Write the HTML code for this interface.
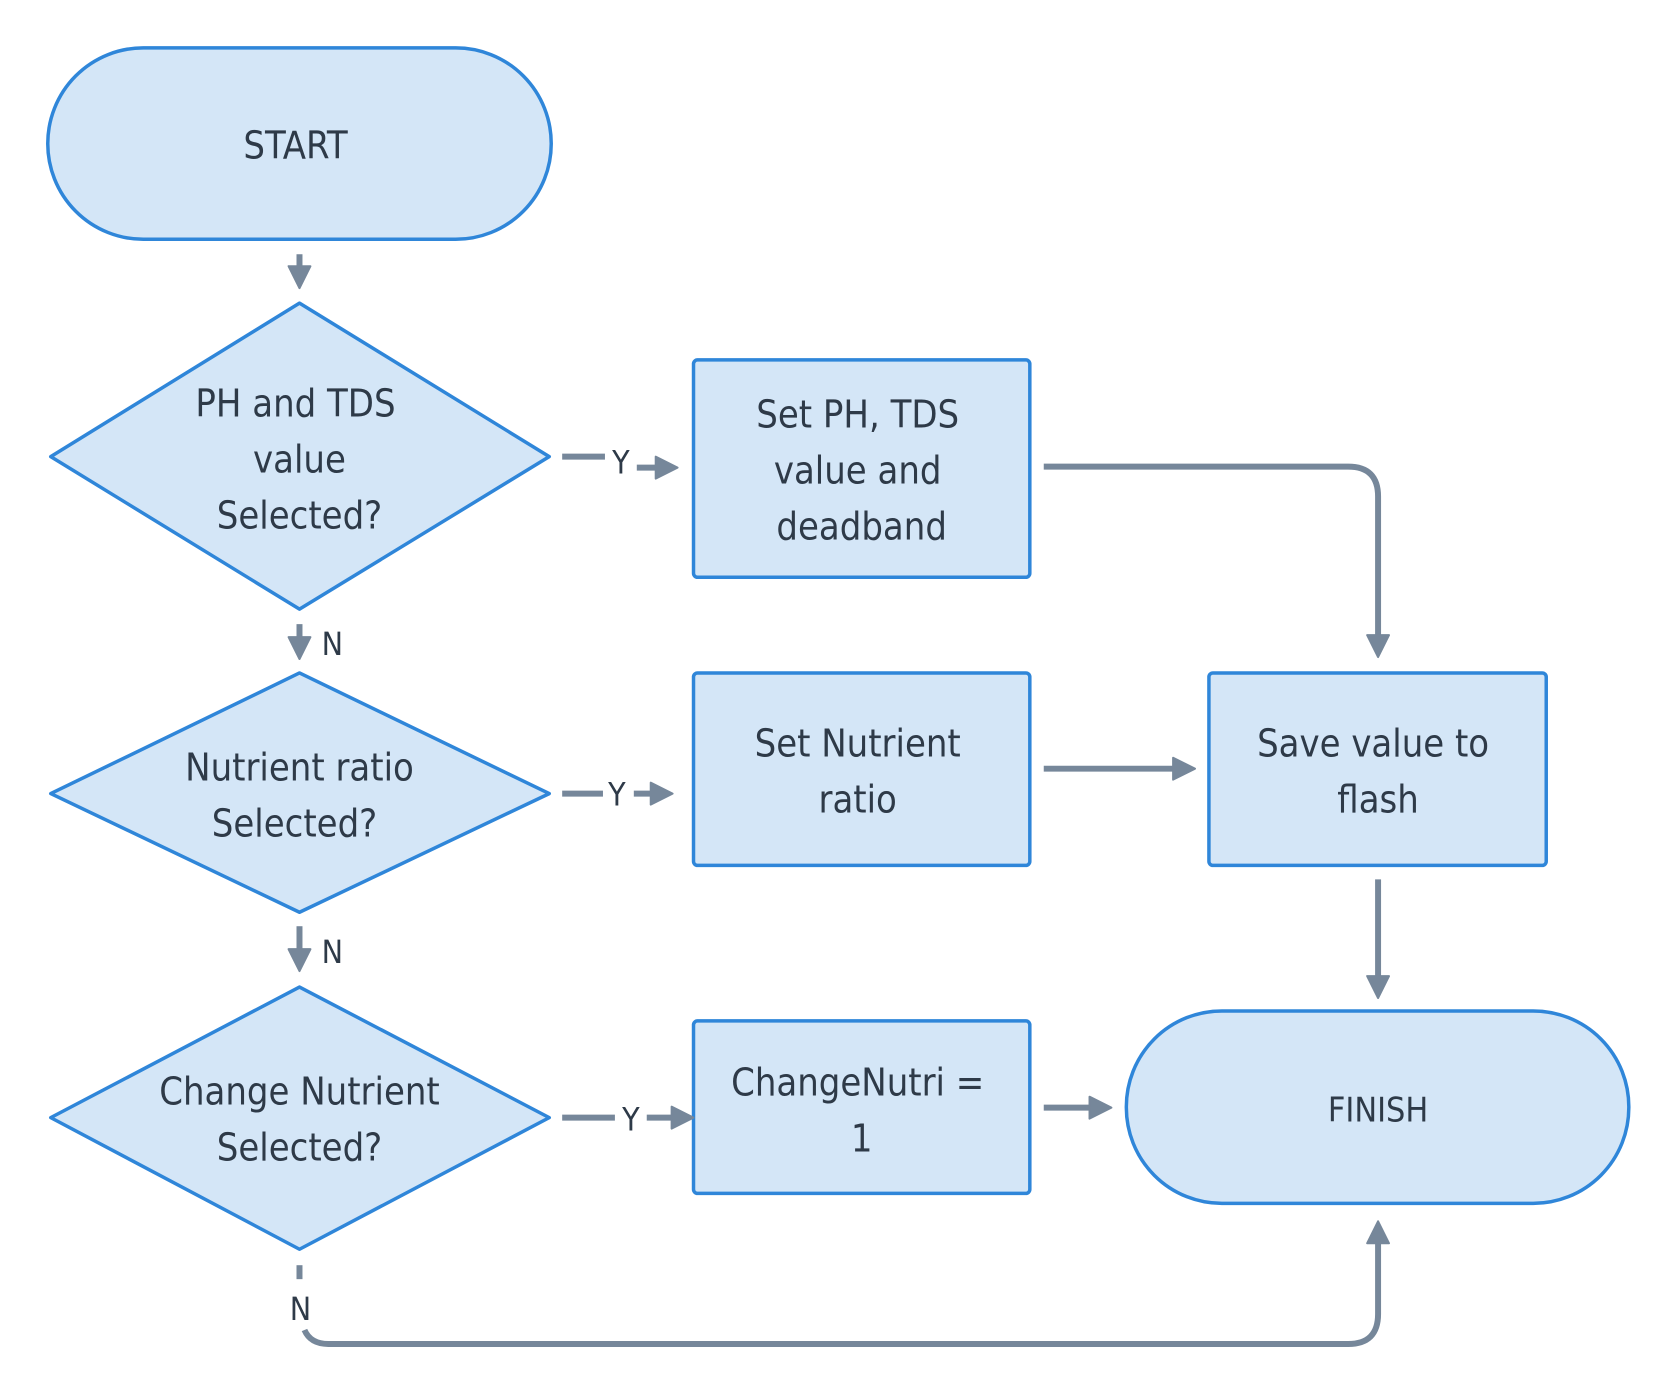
<!DOCTYPE html>
<html><head><style>body{margin:0;background:#fff}svg{display:block}</style></head><body>
<svg width="1678" height="1400" viewBox="0 0 1678 1400" xmlns="http://www.w3.org/2000/svg" font-family="'DejaVu Sans Condensed','DejaVu Sans','Liberation Sans',sans-serif" fill="#2e3a48">
<defs>
<marker id="b" markerWidth="26" markerHeight="26" refX="13" refY="13" orient="auto" markerUnits="userSpaceOnUse" viewBox="0 0 26 26"><path d="M2,2L24,13L2,24z" fill="#76879a" stroke="#76879a" stroke-width="2" stroke-linejoin="round"/></marker></defs>
<g transform="scale(0.995,0.997)">
<g fill="#d4e6f7" stroke="#2f86d9" stroke-width="3.5">
<rect x="48" y="48" width="506" height="192" rx="96"/>
<polygon points="301,304 552,458 301,611 51,458" stroke-linejoin="round"/>
<rect x="697" y="361" width="338" height="218" rx="4"/>
<polygon points="301,675 552,796 301,915 51,796" stroke-linejoin="round"/>
<rect x="697" y="675" width="338" height="193" rx="4"/>
<rect x="1215" y="675" width="339" height="193" rx="4"/>
<polygon points="301,990 552,1121 301,1253 51,1121" stroke-linejoin="round"/>
<rect x="697" y="1024" width="338" height="173" rx="4"/>
<rect x="1132" y="1014" width="505" height="193" rx="96"/>
</g>
<g stroke="#76879a" stroke-width="6" fill="none">
<path d="M301,255V278" marker-end="url(#b)"/>
<path d="M565,458H608"/><path d="M640,469H670" marker-end="url(#b)"/>
<path d="M1049,468H1355Q1385,468 1385,498V648" marker-end="url(#b)"/>
<path d="M301,626V650" marker-end="url(#b)"/>
<path d="M565,796H606"/><path d="M637,796H665" marker-end="url(#b)"/>
<path d="M1049,771H1190" marker-end="url(#b)"/>
<path d="M301,929V963" marker-end="url(#b)"/>
<path d="M1385,882V990" marker-end="url(#b)"/>
<path d="M565,1121H618"/><path d="M650,1121H686" marker-end="url(#b)"/>
<path d="M1049,1111H1106" marker-end="url(#b)"/>
<path d="M301,1269V1283"/>
<path d="M306,1334Q312,1348 330,1348H1355Q1385,1348 1385,1318V1236" marker-end="url(#b)"/>
</g>
<g font-size="38" text-anchor="middle">
<text x="297" y="159">START</text>
<text x="297" y="418">PH and TDS</text><text x="301" y="474">value</text><text x="301" y="530">Selected?</text>
<text x="862" y="429">Set PH, TDS</text><text x="862" y="485">value and</text><text x="866" y="541">deadband</text>
<text x="301" y="783">Nutrient ratio</text><text x="296" y="839">Selected?</text>
<text x="862" y="759">Set Nutrient</text><text x="862" y="815">ratio</text>
<text x="1380" y="759">Save value to</text><text x="1385" y="815">flash</text>
<text x="301" y="1108">Change Nutrient</text><text x="301" y="1164">Selected?</text>
<text x="862" y="1099">ChangeNutri =</text><text x="866" y="1155">1</text>
<text x="1385" y="1125" font-size="34">FINISH</text>
</g>
<g font-size="32" text-anchor="middle">
<text x="624" y="475">Y</text><text x="620" y="808">Y</text><text x="634" y="1134">Y</text>
<text x="334" y="657">N</text><text x="334" y="966">N</text><text x="302" y="1324">N</text>
</g>
</g>
</svg>
</body></html>
